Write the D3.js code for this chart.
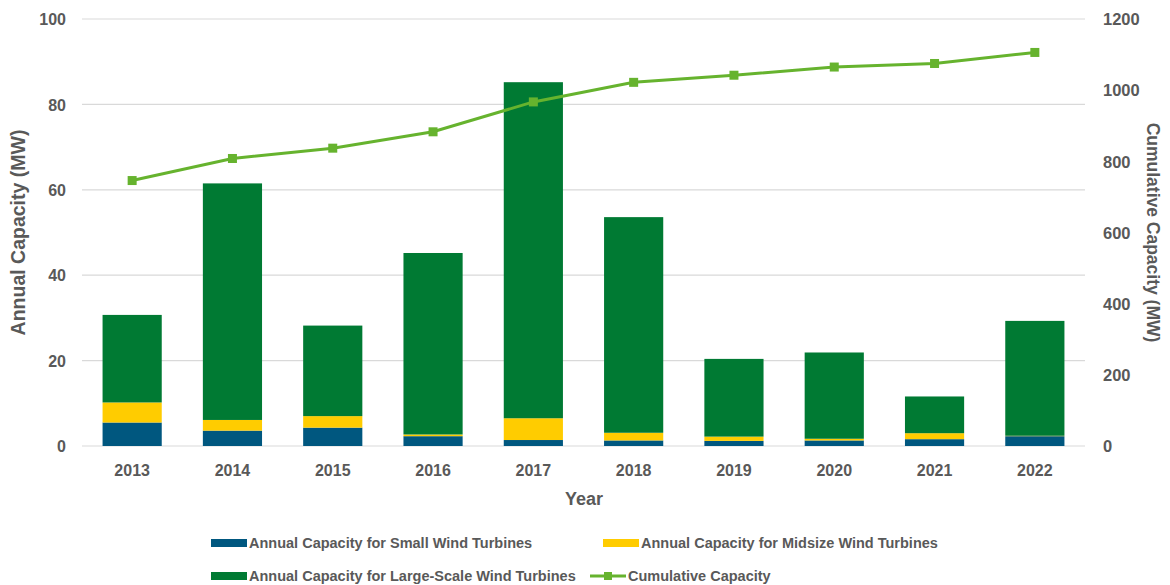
<!DOCTYPE html>
<html>
<head>
<meta charset="utf-8">
<script src="https://cdn.jsdelivr.net/npm/d3@7"></script>
<style>
  html, body { margin: 0; padding: 0; background: #fff; }
  svg { display: block; font-family: "Liberation Sans", Arial, sans-serif; font-weight: bold; }
</style>
</head>
<body>
<svg id="chart" width="1170" height="585"></svg>
<script>
const years = ["2013","2014","2015","2016","2017","2018","2019","2020","2021","2022"];
const smallWind = [5.5, 3.6, 4.3, 2.3, 1.4, 1.3, 1.2, 1.3, 1.6, 2.3];
const midsizeWind = [4.7, 2.5, 2.7, 0.4, 5.1, 1.8, 1.0, 0.4, 1.4, 0.1];
const largeWind = [20.5, 55.4, 21.2, 42.5, 78.7, 50.5, 18.2, 20.2, 8.6, 26.9];
const cumulative = [746, 808, 837, 883, 967, 1022, 1042, 1065, 1075, 1106];
const leftTicks = [0, 20, 40, 60, 80, 100];
const rightTicks = [0, 200, 400, 600, 800, 1000, 1200];
const seriesNames = ["Annual Capacity for Small Wind Turbines", "Annual Capacity for Midsize Wind Turbines", "Annual Capacity for Large-Scale Wind Turbines", "Cumulative Capacity"];

const colors = { small: "#00577f", mid: "#ffcc00", large: "#007a33", line: "#66b32e" };
const textColor = "#595959";

const svg = d3.select("#chart");
const m = { left: 82, right: 85, top: 19, bottom: 139 };
const W = 1170, H = 585;
const x0 = m.left, x1 = W - m.right, yTop = m.top, yBot = H - m.bottom;

const x = d3.scaleBand().domain(years).range([x0, x1]).paddingInner(0.41).paddingOuter(0.205);
const yL = d3.scaleLinear().domain([0, 100]).range([yBot, yTop]);
const yR = d3.scaleLinear().domain([0, 1200]).range([yBot, yTop]);

// gridlines
svg.append("g").selectAll("line").data(leftTicks).join("line")
  .attr("x1", x0).attr("x2", x1)
  .attr("y1", d => yL(d)).attr("y2", d => yL(d))
  .attr("stroke", "#d9d9d9").attr("stroke-width", 1.2);

// left axis
const gL = svg.append("g").attr("transform", `translate(${x0 - 16},0)`)
  .call(d3.axisLeft(yL).tickValues(leftTicks).tickFormat(d3.format("d")).tickSize(0).tickPadding(0));
gL.select(".domain").remove();
gL.selectAll("text").attr("fill", textColor).style("font-size", "16px").style("font-weight", "bold").attr("dy", "0.35em");

// right axis
const gR = svg.append("g").attr("transform", `translate(${x1 + 18},0)`)
  .call(d3.axisRight(yR).tickValues(rightTicks).tickFormat(d3.format("d")).tickSize(0).tickPadding(0));
gR.select(".domain").remove();
gR.selectAll("text").attr("fill", textColor).style("font-size", "16.5px").style("font-weight", "bold").attr("dy", "0.35em");

// x axis
const gX = svg.append("g").attr("transform", `translate(0,${yBot + 18})`)
  .call(d3.axisBottom(x).tickSize(0).tickPadding(0));
gX.select(".domain").remove();
gX.selectAll("text").attr("fill", textColor).style("font-size", "16px").style("font-weight", "bold").attr("dy", "0.75em");

// stacked bars
const rows = years.map((yr, i) => ({ year: yr, small: smallWind[i], mid: midsizeWind[i], large: largeWind[i] }));
const stack = d3.stack().keys(["small", "mid", "large"])(rows);
svg.append("g").selectAll("g").data(stack).join("g")
  .attr("fill", d => colors[d.key])
  .selectAll("rect").data(d => d).join("rect")
  .attr("x", d => x(d.data.year))
  .attr("width", x.bandwidth())
  .attr("y", d => yL(d[1]))
  .attr("height", d => yL(d[0]) - yL(d[1]));

// cumulative line
const line = d3.line().x((d, i) => x(years[i]) + x.bandwidth() / 2).y(d => yR(d));
svg.append("path").datum(cumulative).attr("d", line)
  .attr("fill", "none").attr("stroke", colors.line).attr("stroke-width", 3);
svg.append("g").selectAll("rect").data(cumulative).join("rect")
  .attr("x", (d, i) => x(years[i]) + x.bandwidth() / 2 - 4.5)
  .attr("y", d => yR(d) - 4.5)
  .attr("width", 9).attr("height", 9)
  .attr("fill", colors.line);

// axis titles
svg.append("text").attr("transform", `translate(25,${(yTop + yBot) / 2}) rotate(-90)`)
  .attr("text-anchor", "middle").attr("fill", textColor).style("font-size", "19.5px")
  .text("Annual Capacity (MW)");
svg.append("text").attr("transform", `translate(1147,${(yTop + yBot) / 2}) rotate(90)`)
  .attr("text-anchor", "middle").attr("fill", textColor).style("font-size", "17.5px")
  .text("Cumulative Capacity (MW)");
svg.append("text").attr("x", 584).attr("y", 505)
  .attr("text-anchor", "middle").attr("fill", textColor).style("font-size", "18px")
  .text("Year");

// legend
const legendItems = [
  { name: seriesNames[0], color: colors.small, type: "rect", x: 211, y: 543 },
  { name: seriesNames[1], color: colors.mid, type: "rect", x: 603, y: 543 },
  { name: seriesNames[2], color: colors.large, type: "rect", x: 211, y: 576 },
  { name: seriesNames[3], color: colors.line, type: "line", x: 590, y: 576 }
];
const lg = svg.append("g").selectAll("g").data(legendItems).join("g")
  .attr("transform", d => `translate(${d.x},${d.y})`);
lg.filter(d => d.type === "rect").append("rect")
  .attr("x", 0).attr("y", -4).attr("width", 36).attr("height", 8).attr("fill", d => d.color);
lg.filter(d => d.type === "line").append("line")
  .attr("x1", 0).attr("x2", 36).attr("y1", 0).attr("y2", 0)
  .attr("stroke", d => d.color).attr("stroke-width", 3);
lg.filter(d => d.type === "line").append("rect")
  .attr("x", 14).attr("y", -4).attr("width", 8).attr("height", 8).attr("fill", d => d.color);
lg.append("text").attr("x", 38).attr("y", 0).attr("dy", "0.35em")
  .attr("fill", textColor).style("font-size", "14.5px")
  .text(d => d.name);
</script>
</body>
</html>
